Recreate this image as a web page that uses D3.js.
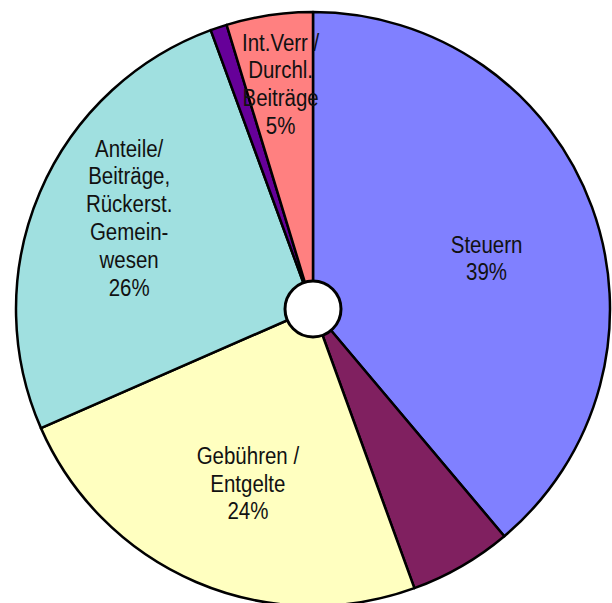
<!DOCTYPE html>
<html>
<head>
<meta charset="utf-8">
<script src="https://cdn.jsdelivr.net/npm/d3@7"></script>
<style>
  body { margin: 0; background: #fff; }
  text { font-family: "Liberation Sans", Arial, sans-serif; font-size: 23px; fill: #111; }
</style>
</head>
<body>
<svg></svg>
<script>
// slices clockwise from 12 o'clock
var categories = ["Steuern", "Sonstige", "Gebühren / Entgelte", "Anteile", "Sonstige2", "Int.Verr"];
var values = [38.9, 5.6, 24.0, 26.0, 0.9, 4.7];
var colors = ["#8080FF", "#802060", "#FFFFC0", "#A0E0E0", "#660099", "#FF8080"];
var labels = [
  ["Steuern", "39%"],
  [],
  ["Gebühren /", "Entgelte", "24%"],
  ["Anteile/", "Beiträge,", "Rückerst.", "Gemein-", "wesen", "26%"],
  [],
  ["Int.Verr /", "Durchl.", "Beiträge", "5%"]
];

var width = 612, height = 603,
  cx = 313, cy = 309, radius = 297;

var svg = d3.select("svg")
  .attr("width", width)
  .attr("height", height);

var g = svg.append("g")
  .attr("transform", "translate(" + cx + "," + cy + ")");

var pie = d3.pie().sort(null).value(function(d) { return d; });
var arcs = pie(values);

var arc = d3.arc().innerRadius(0).outerRadius(radius);

g.selectAll("path")
  .data(arcs)
  .enter().append("path")
  .attr("d", arc)
  .attr("fill", function(d, i) { return colors[i]; })
  .attr("stroke", "#000")
  .attr("stroke-width", 2.5)
  .attr("stroke-linejoin", "round");

// white hole in the middle
g.append("circle")
  .attr("r", 28)
  .attr("fill", "#fff")
  .attr("stroke", "#000")
  .attr("stroke-width", 3);

// label block placement: fraction of radius along the slice middle, plus a small nudge
var labelR = [0.615, 0.625, 0.625, 0.695, 0.6, 0.765];
var nudge = [[2, 12], [0, 0], [8, 4], [6, -10], [0, 0], [1, 0]];
var lineH = 27.8;

arcs.forEach(function(d, i) {
  var lines = labels[i];
  if (!lines.length) return;
  var c = d3.arc().innerRadius(0).outerRadius(radius * labelR[i] * 2).centroid(d);
  var x = c[0] + nudge[i][0],
    y = c[1] + nudge[i][1] - (lines.length - 1) * lineH / 2;
  var t = g.append("text")
    .attr("text-anchor", "middle")
    .attr("transform", "translate(" + x + "," + y + ") scale(0.89,1)");
  lines.forEach(function(s, j) {
    t.append("tspan")
      .attr("x", 0)
      .attr("dy", j === 0 ? "0.35em" : lineH)
      .text(s);
  });
});
</script>
</body>
</html>
